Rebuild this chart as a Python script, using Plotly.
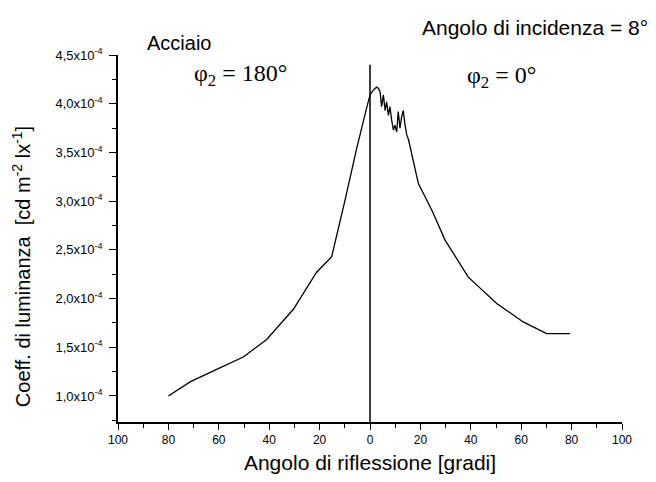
import plotly.graph_objects as go

# angolo di riflessione (negativo = lato phi2 = 180), coeff. in unita di 1e-4
angolo = [-80, -71.4, -60.2, -50.3, -41, -30.4, -21.2, -15.2, -10, -5.3, -1.3, 0,
          1.3, 2.6, 3.3, 4.0, 4.6, 5.3, 6.0, 6.6, 7.3, 7.9, 8.6, 9.3, 9.9, 10.6,
          11.2, 11.9, 12.6, 13.2, 13.9, 14.6, 15.3, 19.2, 24.5, 29.8, 39.0, 50.3,
          60.8, 70.1, 79.4]
coeff = [1.0, 1.145, 1.28, 1.40, 1.58, 1.89, 2.27, 2.43, 3.0, 3.54, 3.96, 4.09,
         4.14, 4.17, 4.16, 4.12, 3.97, 4.09, 3.93, 4.02, 3.88, 3.97, 3.83, 3.73, 3.78, 3.71,
         3.92, 3.75, 3.87, 3.93, 3.78, 3.68, 3.63, 3.18, 2.91, 2.60, 2.22, 1.95,
         1.76, 1.64, 1.64]

x_ticks = [-100, -80, -60, -40, -20, 0, 20, 40, 60, 80, 100]
x_labels = ["100", "80", "60", "40", "20", "0", "20", "40", "60", "80", "100"]
y_ticks = [1.0, 1.5, 2.0, 2.5, 3.0, 3.5, 4.0, 4.5]
y_labels = [f"{v:.1f}".replace(".", ",") + "x10<sup>-4</sup>" for v in y_ticks]

SANS = "Liberation Sans"
SERIF = "Liberation Serif"

fig = go.Figure()
fig.add_trace(go.Scatter(x=angolo, y=coeff, mode="lines",
                         line=dict(color="black", width=1.3), showlegend=False))

# linea verticale a 0 gradi
fig.add_shape(type="line", xref="x", yref="y", x0=0, x1=0, y0=0.733, y1=4.40,
              line=dict(color="black", width=1.5))

fig.update_xaxes(range=[-100, 100], tickvals=x_ticks, ticktext=x_labels, automargin=False,
                 ticks="outside", ticklen=6, tickwidth=1.3, tickcolor="black", showline=True,
                 linecolor="black", linewidth=1.5, showgrid=False, zeroline=False,
                 minor=dict(dtick=10, tick0=0, ticks="outside", ticklen=4, tickcolor="black"),
                 tickfont=dict(size=12, family=SANS, color="black"),
                 title=dict(text="Angolo di riflessione [gradi]", standoff=13,
                            font=dict(size=21, family=SANS, color="black")))
fig.update_yaxes(range=[0.733, 4.5], tickvals=y_ticks, ticktext=y_labels, automargin=False,
                 ticks="outside", ticklen=7, tickwidth=1.3, tickcolor="black", showline=True,
                 linecolor="black", linewidth=1.5, showgrid=False, zeroline=False,
                 minor=dict(dtick=0.25, tick0=0, ticks="outside", ticklen=4, tickcolor="black"),
                 tickfont=dict(size=13, family=SANS, color="black"), ticklabelstandoff=4)

# testi (posizioni in pixel della pagina, poi convertite)
testi = [
    ("Acciaio", 145, 43, "left", SANS, 20, 0),
    ("φ<sub>2</sub> = 180°", 240, 75, "center", SERIF, 24, 0),
    ("φ<sub>2</sub> = 0°", 501, 77, "center", SERIF, 24, 0),
    ("Angolo di incidenza = 8°", 420, 28, "left", SANS, 21, 0),
    ("Coeff. di luminanza  [cd m<sup>-2</sup> lx<sup>-1</sup>]", 21, 267, "center", SANS, 20, -90),
]

# il body della pagina ha un margine di 8 px
OFF = 8
W, H = 656 - 2 * OFF, 482 - 2 * OFF
L, T = 118 - OFF, 55 - OFF
pw, ph = 504, 366.7
R = W - L - pw
B = H - T - ph

for txt, px, py, anchor, fam, size, ang in testi:
    fig.add_annotation(x=(px - OFF - L) / pw, y=1 - (py - OFF - T) / ph,
                       xref="paper", yref="paper", text=txt, showarrow=False,
                       xanchor=anchor, yanchor="middle", textangle=ang,
                       font=dict(size=size, family=fam, color="black"))

fig.update_layout(width=W, height=H, margin=dict(l=L, r=R, t=T, b=B),
                  plot_bgcolor="white", paper_bgcolor="white")

fig.write_html("out.html")
